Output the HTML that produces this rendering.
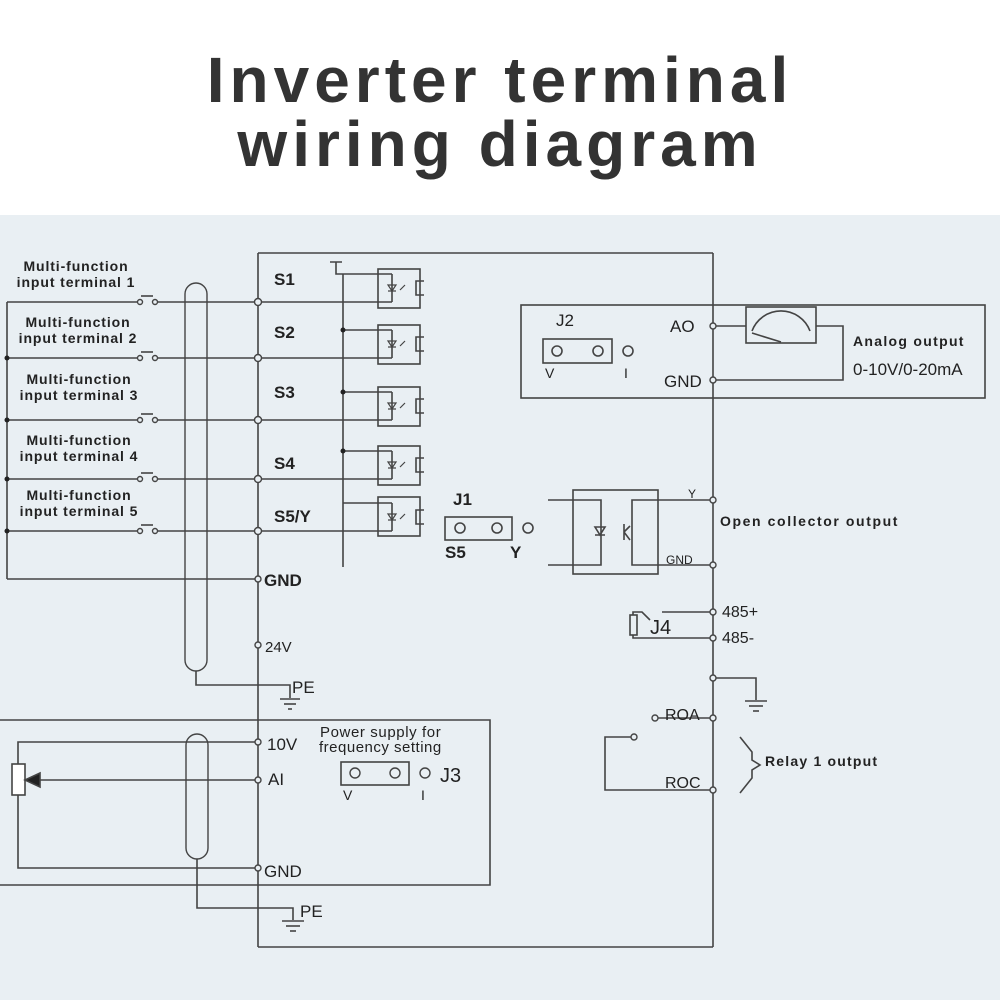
<!DOCTYPE html>
<html><head><meta charset="utf-8"><style>
html,body{margin:0;padding:0;background:#fff;}
body{width:1000px;height:1000px;overflow:hidden;position:relative;font-family:"Liberation Sans",Arial,sans-serif;}
.title{position:absolute;top:48px;left:0;width:1000px;text-align:center;font-size:64px;font-weight:bold;color:#333;line-height:64px;letter-spacing:5px;}
svg{position:absolute;top:0;left:0;}
</style></head><body>
<svg width="1000" height="1000" viewBox="0 0 1000 1000" font-family="Liberation Sans, Arial, sans-serif">
<rect x="0" y="215" width="1000" height="785" fill="#e9eff3"/>
<g stroke="#444" stroke-width="1.6" fill="none">
<line x1="258" y1="253" x2="713" y2="253"/>
<line x1="258" y1="253" x2="258" y2="947"/>
<line x1="713" y1="253" x2="713" y2="947"/>
<line x1="258" y1="947" x2="713" y2="947"/>
<line x1="7" y1="302" x2="7" y2="579"/>
<line x1="7" y1="579" x2="255" y2="579"/>
<line x1="7" y1="302" x2="138" y2="302"/><line x1="157" y1="302" x2="392" y2="302"/><line x1="141" y1="296" x2="153" y2="296"/>
<line x1="7" y1="358" x2="138" y2="358"/><line x1="157" y1="358" x2="392" y2="358"/><line x1="141" y1="352" x2="153" y2="352"/>
<line x1="7" y1="420" x2="138" y2="420"/><line x1="157" y1="420" x2="392" y2="420"/><line x1="141" y1="414" x2="153" y2="414"/>
<line x1="7" y1="479" x2="138" y2="479"/><line x1="157" y1="479" x2="392" y2="479"/><line x1="141" y1="473" x2="153" y2="473"/>
<line x1="7" y1="531" x2="138" y2="531"/><line x1="157" y1="531" x2="392" y2="531"/><line x1="141" y1="525" x2="153" y2="525"/>
<path d="M185 660 L185 294 A11 11 0 0 1 207 294 L207 660 A11 11 0 0 1 185 660" stroke-width="1.4"/>
<path d="M196 671 L196 685 L290 685 L290 698"/>
<line x1="280" y1="699" x2="300" y2="699"/><line x1="284" y1="704" x2="296" y2="704"/><line x1="288" y1="709" x2="292" y2="709"/>
<path d="M330 262 L342 262 M336 262 L336 274 L392 274"/>
<line x1="343" y1="274" x2="343" y2="567"/>
<line x1="343" y1="330" x2="392" y2="330"/>
<line x1="343" y1="392" x2="392" y2="392"/>
<line x1="343" y1="451" x2="392" y2="451"/>
<line x1="343" y1="503" x2="392" y2="503"/>
<rect x="378" y="269" width="42" height="39"/>
<rect x="378" y="325" width="42" height="39"/>
<rect x="378" y="387" width="42" height="39"/>
<rect x="378" y="446" width="42" height="39"/>
<rect x="378" y="497" width="42" height="39"/>
<path d="M392 274 L392 302 M392 330 L392 358 M392 392 L392 420 M392 451 L392 479 M392 503 L392 531"/>
<path d="M424 281 L416 281 L416 295 L424 295 M424 337 L416 337 L416 351 L424 351 M424 399 L416 399 L416 413 L424 413 M424 458 L416 458 L416 472 L424 472 M424 510 L416 510 L416 524 L424 524"/>
<g stroke-width="1.2">
<path d="M388 285 L396 285 L392 291 Z M388 291 L396 291 M400 290 L405 285"/>
<path d="M388 341 L396 341 L392 347 Z M388 347 L396 347 M400 346 L405 341"/>
<path d="M388 403 L396 403 L392 409 Z M388 409 L396 409 M400 408 L405 403"/>
<path d="M388 462 L396 462 L392 468 Z M388 468 L396 468 M400 467 L405 462"/>
<path d="M388 514 L396 514 L392 520 Z M388 520 L396 520 M400 519 L405 514"/>
</g>
<rect x="445" y="517" width="67" height="23"/>
<circle cx="460" cy="528" r="5"/><circle cx="497" cy="528" r="5"/><circle cx="528" cy="528" r="5"/>
<rect x="521" y="305" width="464" height="93"/>
<rect x="543" y="339" width="69" height="24"/>
<circle cx="557" cy="351" r="5"/><circle cx="598" cy="351" r="5"/><circle cx="628" cy="351" r="5"/>
<line x1="716" y1="326" x2="746" y2="326"/>
<rect x="746" y="307" width="70" height="36"/>
<path d="M752 331 A31 31 0 0 1 810 331"/>
<line x1="752" y1="333" x2="781" y2="342"/>
<path d="M816 326 L843 326 L843 380 L716 380"/>
<rect x="573" y="490" width="85" height="84"/>
<path d="M548 500 L601 500 L601 565 L548 565"/>
<path d="M710 500 L632 500 L632 565 L710 565"/>
<path d="M595 527 L605 527 L600 535 Z M595 535 L605 535"/>
<path d="M624 524 L624 540 M624 532 L630 526 M624 532 L630 540"/>
<path d="M710 612 L662 612"/>
<path d="M710 638 L633 638 L633 635 M633 615 L633 612 L642 612 L650 620"/>
<rect x="630" y="615" width="7" height="20"/>
<path d="M716 678 L756 678 L756 700"/>
<line x1="745" y1="701" x2="767" y2="701"/><line x1="749" y1="706" x2="763" y2="706"/><line x1="753" y1="711" x2="759" y2="711"/>
<line x1="658" y1="718" x2="710" y2="718"/>
<path d="M635 737 L605 737 L605 790 L710 790"/>
<path d="M740 737 L752 752 L752 760 L760 765 L752 770 L752 778 L740 793"/>
<path d="M0 720 L490 720 L490 885 L0 885"/>
<path d="M18 764 L18 742 L255 742 M18 795 L18 868 L255 868"/>
<rect x="12" y="764" width="13" height="31" fill="#fff"/>
<line x1="38" y1="780" x2="255" y2="780"/>
<path d="M25 780 L40 773 L40 787 Z" fill="#222"/>
<path d="M186 848 L186 745 A11 11 0 0 1 208 745 L208 848 A11 11 0 0 1 186 848" stroke-width="1.4"/>
<path d="M197 859 L197 908 L293 908 L293 920"/>
<line x1="282" y1="921" x2="304" y2="921"/><line x1="286" y1="926" x2="300" y2="926"/><line x1="290" y1="931" x2="296" y2="931"/>
</g>
<g fill="#e9eff3" stroke="#444" stroke-width="1.4">
<circle cx="140" cy="302" r="2.5"/><circle cx="155" cy="302" r="2.5"/>
<circle cx="140" cy="358" r="2.5"/><circle cx="155" cy="358" r="2.5"/>
<circle cx="140" cy="420" r="2.5"/><circle cx="155" cy="420" r="2.5"/>
<circle cx="140" cy="479" r="2.5"/><circle cx="155" cy="479" r="2.5"/>
<circle cx="140" cy="531" r="2.5"/><circle cx="155" cy="531" r="2.5"/>
<circle cx="258" cy="302" r="3.5"/><circle cx="258" cy="358" r="3.5"/><circle cx="258" cy="420" r="3.5"/><circle cx="258" cy="479" r="3.5"/><circle cx="258" cy="531" r="3.5"/>
<circle cx="258" cy="579" r="3"/><circle cx="258" cy="645" r="3"/>
<circle cx="258" cy="742" r="3"/><circle cx="258" cy="780" r="3"/><circle cx="258" cy="868" r="3"/>
<circle cx="713" cy="326" r="3"/><circle cx="713" cy="380" r="3"/>
<circle cx="713" cy="500" r="3"/><circle cx="713" cy="565" r="3"/>
<circle cx="713" cy="612" r="3"/><circle cx="713" cy="638" r="3"/><circle cx="713" cy="678" r="3"/>
<circle cx="713" cy="718" r="3"/><circle cx="713" cy="790" r="3"/>
<circle cx="655" cy="718" r="3"/><circle cx="634" cy="737" r="3"/>
</g>
<g fill="#222"><circle cx="7" cy="358" r="2.5"/><circle cx="7" cy="420" r="2.5"/><circle cx="7" cy="479" r="2.5"/><circle cx="7" cy="531" r="2.5"/>
<circle cx="343" cy="330" r="2.5"/><circle cx="343" cy="392" r="2.5"/><circle cx="343" cy="451" r="2.5"/></g>
<g fill="#222" font-weight="bold" font-size="14" letter-spacing="0.9" text-anchor="middle">
<text x="76" y="271">Multi-function</text><text x="76" y="287">input terminal 1</text>
<text x="78" y="327">Multi-function</text><text x="78" y="343">input terminal 2</text>
<text x="79" y="384">Multi-function</text><text x="79" y="400">input terminal 3</text>
<text x="79" y="445">Multi-function</text><text x="79" y="461">input terminal 4</text>
<text x="79" y="500">Multi-function</text><text x="79" y="516">input terminal 5</text>
</g>
<g fill="#222" font-size="17">
<g font-weight="bold"><text x="274" y="285">S1</text><text x="274" y="338">S2</text><text x="274" y="398">S3</text><text x="274" y="469">S4</text><text x="274" y="522">S5/Y</text>
<text x="264" y="586">GND</text><text x="453" y="505">J1</text><text x="445" y="558">S5</text><text x="510" y="558">Y</text></g>
<text x="265" y="652" font-size="15">24V</text>
<text x="292" y="693">PE</text>
<text x="556" y="326">J2</text><text x="545" y="378" font-size="14">V</text><text x="624" y="378" font-size="14">I</text>
<text x="670" y="332">AO</text><text x="664" y="387">GND</text>
<text x="853" y="346" font-size="14" font-weight="bold" letter-spacing="1.3">Analog output</text>
<text x="853" y="375" font-size="17">0-10V/0-20mA</text>
<text x="720" y="526" font-size="14" font-weight="bold" letter-spacing="1.6">Open collector output</text>
<text x="688" y="498" font-size="12">Y</text><text x="666" y="564" font-size="12">GND</text>
<text x="722" y="617" font-size="16">485+</text><text x="722" y="643" font-size="16">485-</text>
<text x="650" y="634" font-size="20">J4</text>
<text x="665" y="720" font-size="16">ROA</text><text x="665" y="788" font-size="16">ROC</text>
<text x="765" y="766" font-size="14" font-weight="bold" letter-spacing="1.2">Relay 1 output</text>
<text x="267" y="750">10V</text><text x="268" y="785">AI</text><text x="264" y="877">GND</text>
<text x="320" y="737" font-size="15" letter-spacing="0.6">Power supply for</text>
<text x="319" y="752" font-size="15" letter-spacing="0.5">frequency setting</text>
<rect x="341" y="762" width="68" height="23" fill="none" stroke="#444" stroke-width="1.6"/>
<circle cx="355" cy="773" r="5" fill="none" stroke="#444" stroke-width="1.4"/><circle cx="395" cy="773" r="5" fill="none" stroke="#444" stroke-width="1.4"/><circle cx="425" cy="773" r="5" fill="none" stroke="#444" stroke-width="1.4"/>
<text x="343" y="800" font-size="14">V</text><text x="421" y="800" font-size="14">I</text>
<text x="440" y="782" font-size="20">J3</text>
<text x="300" y="917">PE</text>
</g>
</svg>
<div class="title">Inverter terminal<br>wiring diagram</div>
</body></html>
